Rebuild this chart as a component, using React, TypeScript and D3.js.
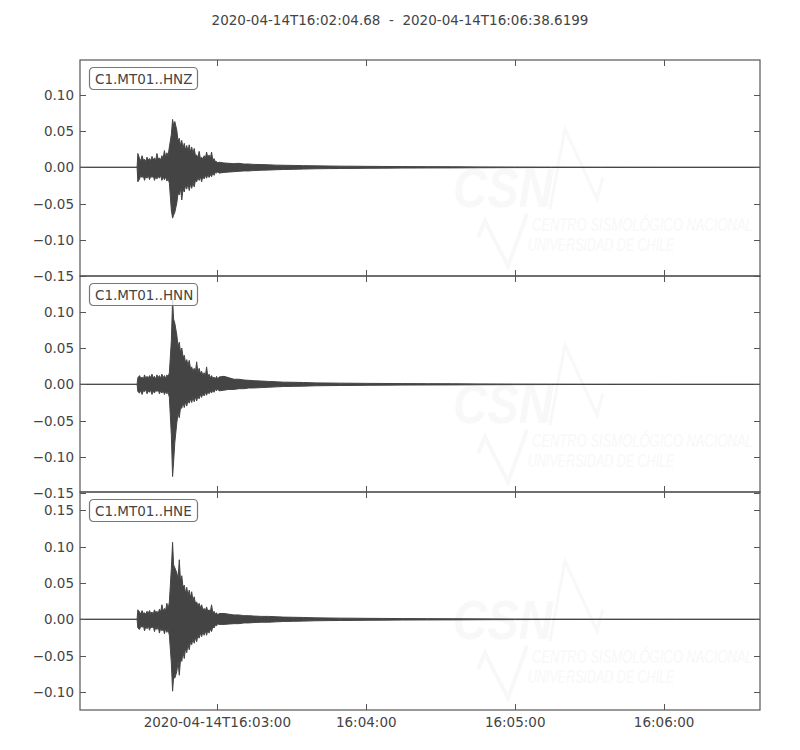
import { useEffect, useRef } from "react"
import * as d3 from "d3"

const title = "2020-04-14T16:02:04.68  -  2020-04-14T16:06:38.6199"
const startTime = new Date(Date.UTC(2020, 3, 14, 16, 2, 4, 680))
const endTime = new Date(Date.UTC(2020, 3, 14, 16, 6, 38, 620))

const channels = ["C1.MT01..HNZ", "C1.MT01..HNN", "C1.MT01..HNE"]

// seconds after start time, envelope samples (max / min per interval)
const tOffsets = [
  0, 23.0, 23.3,
  24, 24.5, 25, 25.5, 26, 26.5, 27, 27.5, 28, 28.5, 29, 29.5, 30, 30.5, 31, 31.5, 32, 32.5, 33, 33.5, 34, 34.5, 35, 35.5, 36,
  36.8, 37.3, 37.7, 38.2,
  39, 39.5, 40, 40.5, 41, 41.5, 42, 42.5, 43, 43.5, 44, 44.5, 45, 45.5, 46, 46.5, 47, 47.5,
  48, 48.5, 49, 49.5, 50, 50.5, 51, 51.5, 52, 52.5, 53, 53.5, 54, 54.5, 55, 55.5, 56,
  58, 60, 62, 64, 66, 68, 70,
  73, 76, 79, 82, 86, 90, 95, 100, 105, 110,
  116, 122, 130, 140, 150, 160, 175, 190, 210, 240, 273.9,
]

const hnzUpper = [
  0, 0, 0.019,
  0.012, 0.009, 0.016, 0.010, 0.011, 0.008, 0.014, 0.010, 0.012, 0.009, 0.015, 0.010, 0.013, 0.009, 0.019, 0.011, 0.013, 0.010, 0.016, 0.012, 0.023, 0.014, 0.020, 0.016, 0.028,
  0.045, 0.066, 0.058, 0.063,
  0.051, 0.036, 0.040, 0.030, 0.037, 0.026, 0.033, 0.024, 0.030, 0.022, 0.031, 0.021, 0.028, 0.019, 0.026, 0.016, 0.017, 0.013,
  0.022, 0.012, 0.014, 0.011, 0.016, 0.012, 0.021, 0.013, 0.017, 0.012, 0.021, 0.010, 0.012, 0.008, 0.008, 0.006, 0.007,
  0.006, 0.0055, 0.005, 0.0055, 0.0045, 0.0045, 0.004,
  0.0038, 0.0034, 0.003, 0.0028, 0.0026, 0.0023, 0.002, 0.0018, 0.0016, 0.0015,
  0.0013, 0.0012, 0.001, 0.0009, 0.0008, 0.0006, 0.0004, 0.0003, 0.0002, 0.0001, 0.0001,
]
const hnzLower = [
  0, 0, -0.020,
  -0.016, -0.011, -0.014, -0.012, -0.018, -0.012, -0.015, -0.011, -0.017, -0.012, -0.014, -0.011, -0.018, -0.013, -0.016, -0.012, -0.015, -0.011, -0.018, -0.013, -0.017, -0.013, -0.019, -0.015, -0.022,
  -0.059, -0.070, -0.066, -0.062,
  -0.049, -0.036, -0.038, -0.029, -0.045, -0.030, -0.034, -0.025, -0.030, -0.022, -0.032, -0.023, -0.029, -0.021, -0.027, -0.018, -0.020, -0.014,
  -0.018, -0.013, -0.020, -0.012, -0.016, -0.011, -0.015, -0.010, -0.014, -0.010, -0.013, -0.008, -0.011, -0.007, -0.008, -0.006, -0.008,
  -0.007, -0.0065, -0.006, -0.0055, -0.005, -0.005, -0.0045,
  -0.004, -0.0038, -0.0033, -0.003, -0.0028, -0.0024, -0.002, -0.0018, -0.0016, -0.0015,
  -0.0013, -0.0012, -0.001, -0.0009, -0.0008, -0.0006, -0.0004, -0.0003, -0.0002, -0.0001, -0.0001,
]

const hnnUpper = [
  0, 0, 0.009,
  0.012, 0.008, 0.010, 0.007, 0.013, 0.008, 0.011, 0.008, 0.012, 0.009, 0.014, 0.009, 0.011, 0.007, 0.013, 0.009, 0.012, 0.008, 0.014, 0.009, 0.012, 0.008, 0.013, 0.010, 0.016,
  0.060, 0.117, 0.090, 0.084,
  0.068, 0.052, 0.058, 0.044, 0.050, 0.038, 0.040, 0.030, 0.034, 0.026, 0.033, 0.022, 0.024, 0.018, 0.022, 0.017, 0.031, 0.016,
  0.022, 0.015, 0.018, 0.012, 0.016, 0.011, 0.024, 0.010, 0.014, 0.009, 0.012, 0.008, 0.010, 0.007, 0.011, 0.007, 0.010,
  0.011, 0.009, 0.007, 0.007, 0.006, 0.0055, 0.005,
  0.0045, 0.004, 0.0035, 0.003, 0.0028, 0.0025, 0.002, 0.0018, 0.0016, 0.0015,
  0.0013, 0.0012, 0.001, 0.0009, 0.0008, 0.0006, 0.0004, 0.0003, 0.0002, 0.0001, 0.0001,
]
const hnnLower = [
  0, 0, -0.010,
  -0.012, -0.008, -0.014, -0.009, -0.010, -0.007, -0.013, -0.009, -0.011, -0.008, -0.014, -0.009, -0.012, -0.008, -0.010, -0.007, -0.013, -0.009, -0.012, -0.008, -0.014, -0.010, -0.013, -0.011, -0.018,
  -0.070, -0.127, -0.107, -0.080,
  -0.053, -0.040, -0.046, -0.032, -0.033, -0.025, -0.032, -0.024, -0.030, -0.022, -0.026, -0.020, -0.025, -0.018, -0.024, -0.017, -0.023, -0.016,
  -0.020, -0.014, -0.018, -0.012, -0.016, -0.011, -0.015, -0.010, -0.013, -0.009, -0.012, -0.008, -0.011, -0.007, -0.009, -0.006, -0.009,
  -0.008, -0.007, -0.007, -0.006, -0.006, -0.005, -0.005,
  -0.0045, -0.004, -0.0035, -0.003, -0.0028, -0.0025, -0.002, -0.0018, -0.0016, -0.0015,
  -0.0013, -0.0012, -0.001, -0.0009, -0.0008, -0.0006, -0.0004, -0.0003, -0.0002, -0.0001, -0.0001,
]

const hneUpper = [
  0, 0, 0.013,
  0.010, 0.007, 0.012, 0.008, 0.009, 0.007, 0.011, 0.008, 0.012, 0.008, 0.010, 0.007, 0.013, 0.009, 0.011, 0.008, 0.014, 0.010, 0.020, 0.011, 0.015, 0.012, 0.022, 0.014, 0.024,
  0.070, 0.106, 0.075, 0.071,
  0.064, 0.055, 0.082, 0.052, 0.060, 0.044, 0.047, 0.036, 0.044, 0.033, 0.040, 0.030, 0.038, 0.026, 0.031, 0.022, 0.024, 0.018,
  0.022, 0.016, 0.020, 0.013, 0.015, 0.012, 0.017, 0.011, 0.013, 0.010, 0.020, 0.009, 0.011, 0.007, 0.009, 0.006, 0.008,
  0.008, 0.007, 0.006, 0.006, 0.005, 0.005, 0.0045,
  0.004, 0.004, 0.0035, 0.003, 0.0028, 0.0025, 0.002, 0.0018, 0.0016, 0.0015,
  0.0013, 0.0012, 0.001, 0.0009, 0.0008, 0.0006, 0.0004, 0.0003, 0.0002, 0.0001, 0.0001,
]
const hneLower = [
  0, 0, -0.012,
  -0.014, -0.009, -0.011, -0.008, -0.016, -0.010, -0.013, -0.009, -0.015, -0.010, -0.012, -0.009, -0.017, -0.011, -0.014, -0.010, -0.019, -0.012, -0.016, -0.012, -0.020, -0.013, -0.018, -0.014, -0.022,
  -0.060, -0.099, -0.080, -0.081,
  -0.072, -0.058, -0.077, -0.055, -0.058, -0.045, -0.054, -0.040, -0.046, -0.034, -0.042, -0.031, -0.035, -0.027, -0.033, -0.025, -0.031, -0.022,
  -0.026, -0.019, -0.024, -0.017, -0.022, -0.016, -0.022, -0.015, -0.019, -0.013, -0.017, -0.010, -0.012, -0.008, -0.009, -0.006, -0.007,
  -0.007, -0.0065, -0.006, -0.006, -0.005, -0.005, -0.0045,
  -0.004, -0.004, -0.0035, -0.003, -0.0028, -0.0025, -0.002, -0.0018, -0.0016, -0.0015,
  -0.0013, -0.0012, -0.001, -0.0009, -0.0008, -0.0006, -0.0004, -0.0003, -0.0002, -0.0001, -0.0001,
]

const uppers = [hnzUpper, hnnUpper, hneUpper]
const lowers = [hnzLower, hnnLower, hneLower]

const yLimits = [
  [-0.1497, 0.1478],
  [-0.1483, 0.1492],
  [-0.1249, 0.1753],
]
const yTicks = [
  [-0.15, -0.1, -0.05, 0, 0.05, 0.1],
  [-0.15, -0.1, -0.05, 0, 0.05, 0.1],
  [-0.1, -0.05, 0, 0.05, 0.1, 0.15],
]

const xTickTimes = ["2020-04-14T16:03:00Z", "2020-04-14T16:04:00Z", "2020-04-14T16:05:00Z", "2020-04-14T16:06:00Z"]
const xTickLabels = ["2020-04-14T16:03:00", "16:04:00", "16:05:00", "16:06:00"]

export default function App() {
  const svgRef = useRef<SVGSVGElement>(null)

  useEffect(() => {
    if (!svgRef.current) return
    const width = 800
    const height = 750
    const left = 80
    const right = 760
    const panelEdges = [60, 276, 492, 710]
    const ink = "#444"
    const spine = "#555"
    const wmColor = "#f8f8f8"
    const font = "DejaVu Sans, sans-serif"

    d3.select(svgRef.current).selectAll("*").remove()
    const svg = d3
      .select(svgRef.current)
      .attr("width", width)
      .attr("height", height)
      .style("font-family", font)

    svg.append("rect").attr("width", width).attr("height", height).attr("fill", "#fff")

    svg
      .append("text")
      .attr("x", 400)
      .attr("y", 25)
      .attr("text-anchor", "middle")
      .attr("font-size", 13.5)
      .attr("fill", ink)
      .style("white-space", "pre")
      .text(title)

    const x = d3.scaleUtc().domain([startTime, endTime]).range([left, right])
    const toDate = (s: number) => new Date(startTime.getTime() + s * 1000)

    channels.forEach((name, k) => {
      const top = panelEdges[k]
      const bottom = panelEdges[k + 1]
      const y = d3.scaleLinear().domain(yLimits[k]).range([bottom, top])
      const g = svg.append("g")

      // faint CSN watermark
      const wm = g.append("g").attr("fill", wmColor)
      wm.append("text")
        .attr("x", 453)
        .attr("y", top + 147)
        .attr("font-family", "Liberation Sans, sans-serif")
        .attr("font-weight", "bold")
        .attr("font-style", "italic")
        .attr("font-size", 56)
        .attr("textLength", 100)
        .attr("lengthAdjust", "spacingAndGlyphs")
        .text("CSN")
      wm.append("polyline")
        .attr("points", [[478, 177], [485, 161], [508, 206], [527, 154]].map((p) => `${p[0]},${top + p[1]}`).join(" "))
        .attr("fill", "none")
        .attr("stroke", wmColor)
        .attr("stroke-width", 4)
      wm.append("polyline")
        .attr("points", [[550, 149], [565, 69], [597, 139], [603, 117]].map((p) => `${p[0]},${top + p[1]}`).join(" "))
        .attr("fill", "none")
        .attr("stroke", wmColor)
        .attr("stroke-width", 3)
      wm.append("text")
        .attr("transform", `translate(532, ${top + 171}) scale(1, 1.4)`)
        .attr("font-family", "Liberation Sans, sans-serif")
        .attr("font-style", "italic")
        .attr("font-size", 13)
        .text("CENTRO SISMOLÓGICO NACIONAL")
      wm.append("text")
        .attr("transform", `translate(528, ${top + 191}) scale(1, 1.4)`)
        .attr("font-family", "Liberation Sans, sans-serif")
        .attr("font-style", "italic")
        .attr("font-size", 12.5)
        .text("UNIVERSIDAD DE CHILE")

      // waveform envelope
      const pts = tOffsets.map((t, i) => ({ t, hi: uppers[k][i], lo: lowers[k][i] }))
      const area = d3
        .area<{ t: number; hi: number; lo: number }>()
        .x((d) => x(toDate(d.t)))
        .y0((d) => y(d.lo))
        .y1((d) => y(d.hi))
      g.append("path")
        .attr("d", area(pts) || "")
        .attr("fill", ink)
        .attr("stroke", ink)
        .attr("stroke-width", 1)
        .attr("stroke-linejoin", "round")

      // frame
      g.append("rect")
        .attr("x", left)
        .attr("y", top)
        .attr("width", right - left)
        .attr("height", bottom - top)
        .attr("fill", "none")
        .attr("stroke", spine)
        .attr("stroke-width", 1.2)

      // y ticks (inside, both sides)
      yTicks[k].forEach((v) => {
        const yy = Math.round(y(v)) + 0.5
        g.append("line").attr("x1", left).attr("x2", left + 6).attr("y1", yy).attr("y2", yy).attr("stroke", spine)
        g.append("line").attr("x1", right - 6).attr("x2", right).attr("y1", yy).attr("y2", yy).attr("stroke", spine)
        g.append("text")
          .attr("x", left - 6)
          .attr("y", yy)
          .attr("dy", "0.36em")
          .attr("text-anchor", "end")
          .attr("font-size", 13.5)
          .attr("fill", ink)
          .text(d3.format(".2f")(v).replace("-", "\u2212"))
      })

      // x ticks (inside, top and bottom)
      xTickTimes.forEach((s) => {
        const xx = Math.round(x(new Date(s))) + 0.5
        g.append("line").attr("x1", xx).attr("x2", xx).attr("y1", top).attr("y2", top + 6).attr("stroke", spine)
        g.append("line").attr("x1", xx).attr("x2", xx).attr("y1", bottom - 6).attr("y2", bottom).attr("stroke", spine)
      })

      // channel label box
      const lb = g.append("g").attr("transform", `translate(89.5, ${top + 7.5})`)
      lb.append("rect")
        .attr("width", 108)
        .attr("height", 22)
        .attr("rx", 4)
        .attr("fill", "#fff")
        .attr("fill-opacity", 0.8)
        .attr("stroke", "#777")
        .attr("stroke-width", 1.2)
      lb.append("text")
        .attr("x", 5.5)
        .attr("y", 16)
        .attr("font-size", 13.5)
        .attr("fill", ink)
        .text(name)
    })

    // bottom time labels
    xTickTimes.forEach((s, i) => {
      svg
        .append("text")
        .attr("x", x(new Date(s)))
        .attr("y", 727)
        .attr("text-anchor", "middle")
        .attr("font-size", 13.5)
        .attr("fill", ink)
        .text(xTickLabels[i])
    })
  }, [])

  return (
    <div style={{ position: "absolute", left: 0, top: 0 }}>
      <svg ref={svgRef} style={{ display: "block" }} />
    </div>
  )
}
